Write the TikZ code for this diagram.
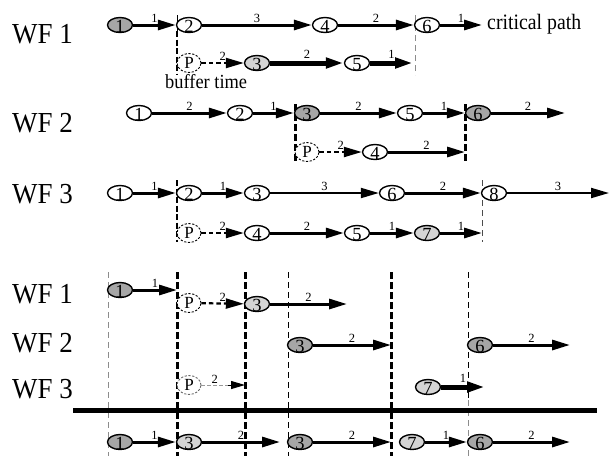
\documentclass[tikz,border=0pt]{standalone}
\usepackage{fontspec}
\setmainfont{Liberation Serif}
\usetikzlibrary{arrows.meta,shapes.geometric}
% task number set low inside its ellipse, without widening it
\newcommand\nd[1]{\makebox[0pt]{\raisebox{-7.5pt}[0pt][0pt]{#1}}}
% slightly condensed text
\newcommand\cond[2]{\scalebox{#1}[1]{#2}}

\begin{document}
\begin{tikzpicture}[x=1pt,y=-1pt,
  ev/.style={ellipse,draw,line width=1.4pt,minimum width=25pt,minimum height=15pt,
    inner sep=0pt,fill=white,font=\fontsize{18.5}{18.5}\selectfont},
  dk/.style={ev,fill=black!35},
  lt/.style={ev,fill=black!17},
  pv/.style={ev,line width=0.9pt,dash pattern=on 2.2pt off 1.6pt,
    minimum width=24pt,minimum height=19pt,font=\fontsize{17}{17}\selectfont},
  act/.style={line width=3pt,-{Triangle[length=18pt,width=10pt]}},
  thin act/.style={act,line width=2pt},
  heavy act/.style={act,line width=5pt},
  wait act/.style={act,line width=2.2pt,dash pattern=on 4.5pt off 3pt},
  lab/.style={above,inner sep=0pt,yshift=1.2pt,font=\fontsize{12.5}{12.5}\selectfont},
  wf/.style={anchor=base west,inner sep=0pt,font=\fontsize{29}{29}\selectfont},
  sync/.style={line width=3pt,dash pattern=on 7pt off 3pt},
  tick/.style={line width=0.8pt,black!45,dash pattern=on 6pt off 4pt},
  tickdk/.style={line width=0.9pt,dash pattern=on 6pt off 4pt},
]
\useasboundingbox (0,0) rectangle (609,456);

% ---------- row labels ----------
\node[wf] (l1) at (12,43) {\cond{0.93}{WF 1}};
\node[wf] (l2) at (12,132) {\cond{0.93}{WF 2}};
\node[wf] (l3) at (12,203) {\cond{0.93}{WF 3}};
\node[wf] (l4) at (12,303) {\cond{0.93}{WF 1}};
\node[wf] (l5) at (12,352) {\cond{0.93}{WF 2}};
\node[wf] (l6) at (12,398) {\cond{0.93}{WF 3}};

% ---------- time markers of the upper schedules ----------
\draw[line width=0.8pt] (177,15) -- (177,31);
\draw[line width=2.4pt,dash pattern=on 6pt off 2.5pt] (177,31) -- (177,75);
\draw[tick] (415,15) -- (415,75);
\draw[sync] (295,104) -- (295,162);
\draw[sync] (465,104) -- (465,162);
\draw[line width=2.4pt,dash pattern=on 6pt off 2.5pt] (177,180) -- (177,242);
\draw[tick,black!70] (482,180) -- (482,242);

% ---------- time markers of the merged schedule ----------
\draw[tick] (108,272) -- (108,456);
\draw[sync] (177,272) -- (177,456);
\draw[sync] (245,272) -- (245,456);
\draw[tickdk] (288,272) -- (288,456);
\draw[sync] (391,272) -- (391,456);
\draw[tickdk] (468,272) -- (468,400);
\draw[tick] (468,400) -- (468,456);

% ---------- WF 1 ----------
\node[dk] (a1) at (120,25) {\nd{1}};
\node[ev] (a2) at (189,25) {\nd{2}};
\node[ev] (a4) at (325,25) {\nd{4}};
\node[ev] (a6) at (427,25) {\nd{6}};
\coordinate (aE) at (482,25);
\node[anchor=base west,inner sep=0pt,font=\fontsize{22}{22}\selectfont] (cp) at (487,29) {\cond{0.9}{critical path}};
\draw[act] (a1) -- node[lab]{1} (a2);
\draw[act] (a2) -- node[lab]{3} (a4);
\draw[act] (a4) -- node[lab]{2} (a6);
\draw[act] (a6) -- node[lab]{1} (aE);

\node[pv] (bP) at (189,63) {P};
\node[lt] (b3) at (257,63) {\nd{3}};
\node[ev] (b5) at (357,63) {\nd{5}};
\coordinate (bE) at (413,63);
\draw[wait act] (bP) -- node[lab]{2} (b3);
\draw[heavy act] (b3) -- node[lab,yshift=1pt]{2} (b5);
\draw[heavy act] (b5) -- node[lab,yshift=1pt]{1} (bE);
\node[anchor=base west,inner sep=0pt,font=\fontsize{20}{20}\selectfont] (bt) at (165,88) {\cond{0.92}{buffer time}};

% ---------- WF 2 ----------
\node[ev] (c1) at (139,113) {\nd{1}};
\node[ev] (c2) at (240,113) {\nd{2}};
\node[dk] (c3) at (307,113) {\nd{3}};
\node[ev] (c5) at (410,113) {\nd{5}};
\node[dk] (c6) at (478,113) {\nd{6}};
\coordinate (cE) at (565,113);
\draw[act] (c1) -- node[lab]{2} (c2);
\draw[act] (c2) -- node[lab]{1} (c3);
\draw[act] (c3) -- node[lab]{2} (c5);
\draw[act] (c5) -- node[lab]{1} (c6);
\draw[act] (c6) -- node[lab]{2} (cE);

\node[pv] (dP) at (307,152) {P};
\node[ev] (d4) at (375,152) {\nd{4}};
\coordinate (dE) at (465,152);
\draw[wait act] (dP) -- node[lab]{2} (d4);
\draw[act] (d4) -- node[lab]{2} (dE);

% ---------- WF 3 ----------
\node[ev] (e1) at (120,193) {\nd{1}};
\node[ev] (e2) at (189,193) {\nd{2}};
\node[ev] (e3) at (257,193) {\nd{3}};
\node[ev] (e6) at (392,193) {\nd{6}};
\node[ev] (e8) at (494,193) {\nd{8}};
\coordinate (eE) at (609,193);
\draw[act] (e1) -- node[lab]{1} (e2);
\draw[act] (e2) -- node[lab]{1} (e3);
\draw[thin act] (e3) -- node[lab]{3} (e6);
\draw[act] (e6) -- node[lab]{2} (e8);
\draw[thin act] (e8) -- node[lab]{3} (eE);

\node[pv] (fP) at (189,233) {P};
\node[ev] (f4) at (257,233) {\nd{4}};
\node[ev] (f5) at (357,233) {\nd{5}};
\node[lt] (f7) at (427,233) {\nd{7}};
\coordinate (fE) at (482,233);
\draw[wait act] (fP) -- node[lab]{2} (f4);
\draw[act] (f4) -- node[lab]{2} (f5);
\draw[act] (f5) -- node[lab]{1} (f7);
\draw[act] (f7) -- node[lab]{1} (fE);

% ---------- merged schedule ----------
\node[dk] (g1) at (120,290) {\nd{1}};
\coordinate (gE) at (177,290);
\draw[act] (g1) -- node[lab]{1} (gE);
\node[pv] (gP) at (189,303) {P};
\node[lt] (g3) at (257,304) {\nd{3}};
\coordinate (gF) at (347,304);
\draw[wait act] (gP) -- node[lab]{2} (g3);
\draw[act] (g3) -- node[lab]{2} (gF);

\node[dk] (h3) at (300,345) {\nd{3}};
\coordinate (hE) at (391,345);
\node[dk] (h6) at (480,345) {\nd{6}};
\coordinate (hF) at (570,345);
\draw[act] (h3) -- node[lab]{2} (hE);
\draw[act] (h6) -- node[lab]{2} (hF);

\node[pv,draw=black!60] (iP) at (189,385) {P};
\coordinate (iE) at (245,385);
\coordinate (iM) at (228,385);
\draw[line width=0.8pt,black!40,dash pattern=on 4pt off 2pt] (iP) -- node[lab,text=black]{2} (iM);
\draw[line width=1pt,-{Triangle[length=14pt,width=8pt]}] (iM) -- (iE);
\node[lt] (i7) at (428,387) {\nd{7}};
\coordinate (iF) at (485,387);
\draw[heavy act] (i7) -- node[lab,yshift=1pt]{1} (iF);

% ---------- resulting sequence ----------
\draw[line width=5pt] (73,410.5) -- (597,410.5);

\node[dk] (j1) at (120,442) {\nd{1}};
\node[lt] (j3) at (189,442) {\nd{3}};
\coordinate (jE) at (280,442);
\node[dk] (jA) at (300,442) {\nd{3}};
\coordinate (jF) at (391,442);
\node[lt] (j7) at (412,442) {\nd{7}};
\node[dk] (j6) at (480,442) {\nd{6}};
\coordinate (jG) at (570,442);
\draw[act] (j1) -- node[lab]{1} (j3);
\draw[act] (j3) -- node[lab]{2} (jE);
\draw[act] (jA) -- node[lab]{2} (jF);
\draw[act] (j7) -- node[lab]{1} (j6);
\draw[act] (j6) -- node[lab]{2} (jG);
\end{tikzpicture}
\end{document}
